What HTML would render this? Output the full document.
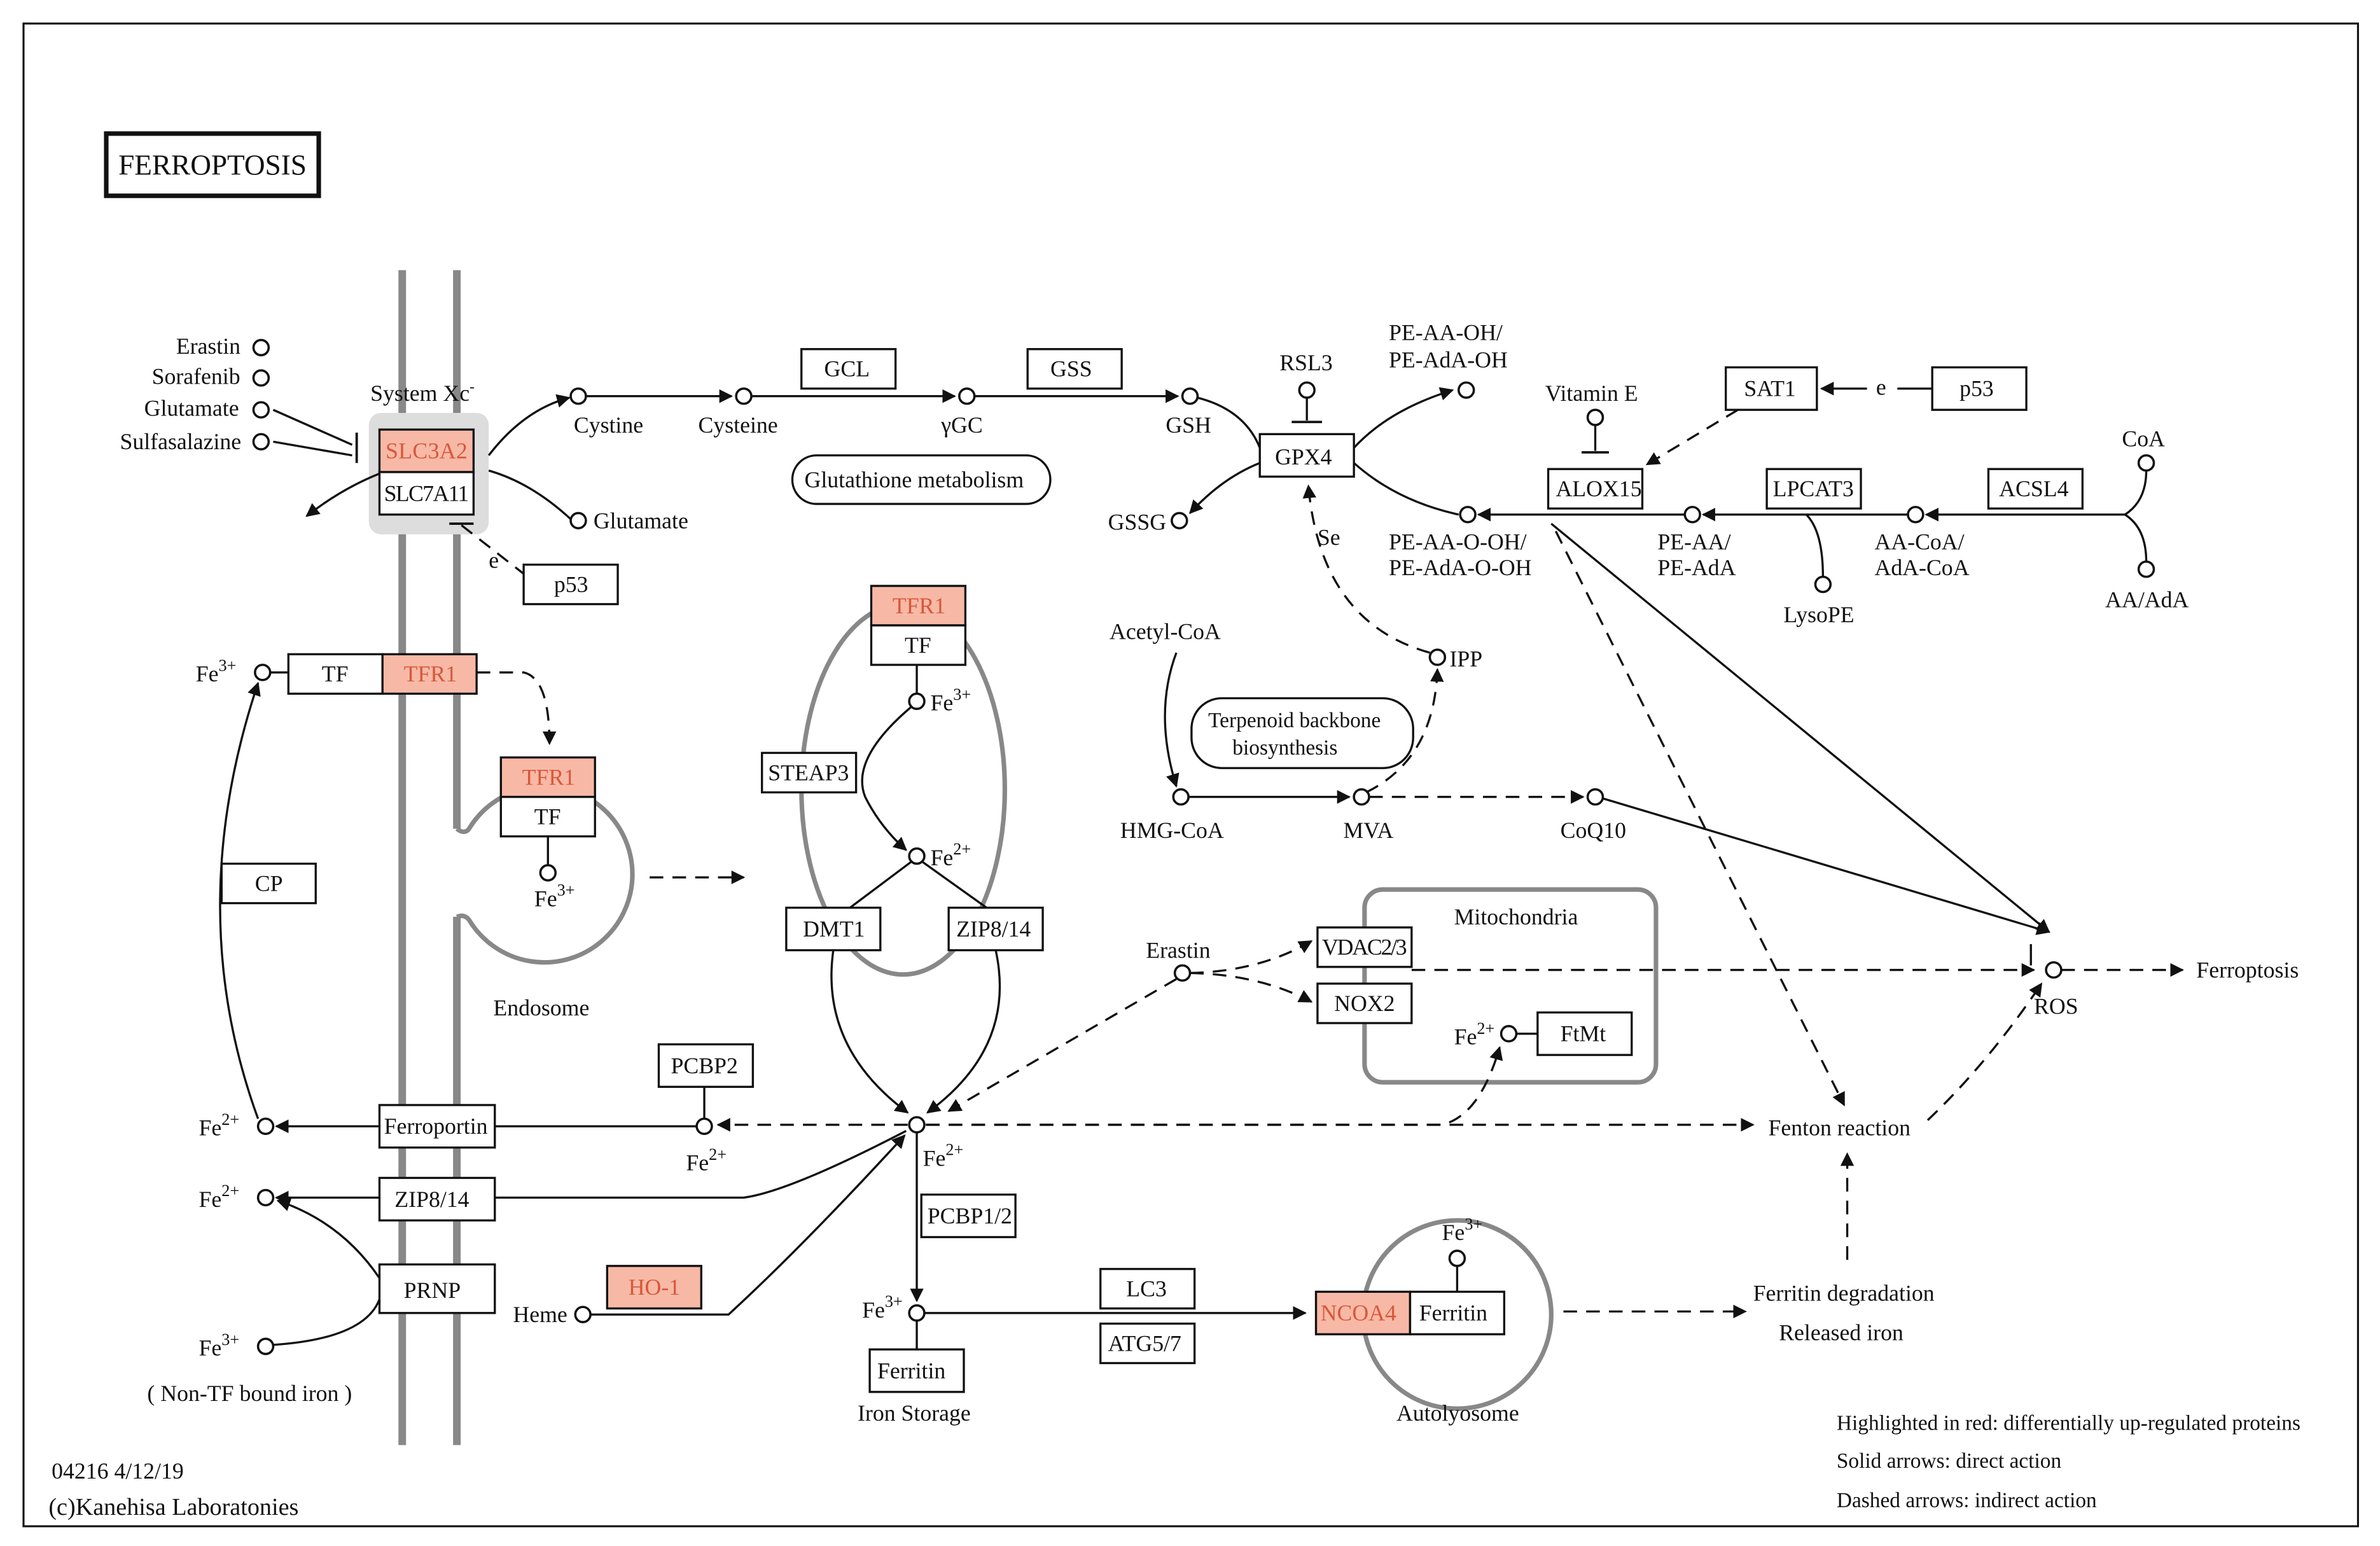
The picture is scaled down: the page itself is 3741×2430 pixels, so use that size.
<!DOCTYPE html>
<html><head><meta charset="utf-8"><style>
html,body{margin:0;padding:0;background:#fff;width:3741px;height:2430px;overflow:hidden}
svg{display:block}
text{font-family:"Liberation Serif",serif;font-size:15px;fill:#111}
.b{fill:#fff;stroke:#111;stroke-width:1.4}
.r{fill:#f7b9a6;stroke:#111;stroke-width:1.4}
.rt{fill:#d9573a}
.c{fill:#fff;stroke:#111;stroke-width:1.5}
.l{fill:none;stroke:#111;stroke-width:1.4}
.d{fill:none;stroke:#111;stroke-width:1.4;stroke-dasharray:9,6}
.g{fill:none;stroke:#888;stroke-width:3}
</style></head><body>
<svg width="3741" height="2430" viewBox="0 0 1568 1018.5" preserveAspectRatio="none" xmlns="http://www.w3.org/2000/svg">
<defs>
<marker id="a" viewBox="0 0 10 10" refX="9" refY="5" markerWidth="9" markerHeight="9" orient="auto" markerUnits="userSpaceOnUse"><path d="M0,0L10,5L0,10z" fill="#111"/></marker>
</defs>
<rect x="0" y="0" width="1568" height="1018.5" fill="#fff"/>
<rect x="15.5" y="15.5" width="1538" height="990" fill="none" stroke="#111" stroke-width="1.3"/>
<rect x="70" y="88" width="140" height="41" fill="#fff" stroke="#111" stroke-width="3"/>
<text x="78" y="115" style="font-size:19px" textLength="124">FERROPTOSIS</text>

<line x1="265" y1="178" x2="265" y2="952" stroke="#888" stroke-width="5"/>
<line x1="301" y1="178" x2="301" y2="546" stroke="#888" stroke-width="5"/>
<line x1="301" y1="604" x2="301" y2="952" stroke="#888" stroke-width="5"/>

<rect x="243" y="272" width="79" height="80" rx="8" fill="#ddd"/>
<text x="244" y="264">System Xc<tspan dy="-6" style="font-size:10px">-</tspan></text>
<rect x="250" y="283" width="62" height="28" class="r"/><text x="254" y="302" class="rt" textLength="54">SLC3A2</text>
<rect x="250" y="311" width="62" height="28" class="b"/><text x="253" y="330" textLength="56">SLC7A11</text>
<circle cx="172" cy="229" r="5" class="c"/><text x="116" y="233">Erastin</text>
<circle cx="172" cy="249" r="5" class="c"/><text x="100" y="253">Sorafenib</text>
<circle cx="172" cy="270" r="5" class="c"/><text x="95" y="274">Glutamate</text>
<circle cx="172" cy="291" r="5" class="c"/><text x="79" y="296">Sulfasalazine</text>
<path d="M180,270 L232,293 M180,291 L232,300" class="l"/><line x1="235" y1="285" x2="235" y2="305" stroke="#111" stroke-width="1.6"/>
<path d="M322,300 Q345,270 375,262" class="l" marker-end="url(#a)"/>
<path d="M250,312 Q225,322 202,340" class="l" marker-end="url(#a)"/>
<path d="M322,310 Q350,318 376,342" class="l"/>
<circle cx="381" cy="343" r="5" class="c"/><text x="391" y="348">Glutamate</text>
<line x1="296" y1="345" x2="312" y2="345" stroke="#111" stroke-width="1.6"/><path d="M304,346 L345,378" class="d"/>
<text x="322" y="374">e</text>
<rect x="345" y="372" width="62" height="26" class="b"/><text x="365" y="390">p53</text>

<circle cx="381" cy="261" r="5" class="c"/><text x="378" y="285">Cystine</text>
<line x1="386" y1="261" x2="482" y2="261" class="l" marker-end="url(#a)"/>
<circle cx="490" cy="261" r="5" class="c"/><text x="460" y="285">Cysteine</text>
<line x1="495" y1="261" x2="629" y2="261" class="l" marker-end="url(#a)"/>
<rect x="528" y="230" width="62" height="26" class="b"/><text x="543" y="248">GCL</text>
<circle cx="637" cy="261" r="5" class="c"/><text x="620" y="285">γGC</text>
<line x1="642" y1="261" x2="776" y2="261" class="l" marker-end="url(#a)"/>
<rect x="677" y="230" width="62" height="26" class="b"/><text x="692" y="248">GSS</text>
<circle cx="784" cy="261" r="5" class="c"/><text x="768" y="285">GSH</text>
<rect x="522" y="300" width="170" height="32" rx="16" class="b"/><text x="530" y="321">Glutathione metabolism</text>
<path d="M789,262 Q820,270 830,295" class="l"/>
<path d="M830,305 Q805,315 784,338" class="l" marker-end="url(#a)"/>
<circle cx="777" cy="343" r="5" class="c"/><text x="730" y="349">GSSG</text>
<rect x="830" y="286" width="62" height="28" class="b"/><text x="840" y="306">GPX4</text>
<text x="843" y="244">RSL3</text><circle cx="861" cy="257" r="5" class="c"/>
<line x1="861" y1="262" x2="861" y2="277" class="l"/><line x1="851" y1="278" x2="871" y2="278" stroke="#111" stroke-width="1.6"/>
<path d="M892,295 Q915,270 957,257" class="l" marker-end="url(#a)"/>
<circle cx="966" cy="257" r="5" class="c"/><text x="915" y="224">PE-AA-OH/</text><text x="915" y="242">PE-AdA-OH</text>
<path d="M892,305 Q920,330 961,339" class="l"/>
<circle cx="967" cy="339" r="5" class="c"/><text x="915" y="362">PE-AA-O-OH/</text><text x="915" y="379">PE-AdA-O-OH</text>
<line x1="1110" y1="339" x2="974" y2="339" class="l" marker-end="url(#a)"/>
<circle cx="1115" cy="339" r="5" class="c"/><text x="1092" y="362">PE-AA/</text><text x="1092" y="379">PE-AdA</text>
<line x1="1257" y1="339" x2="1122" y2="339" class="l" marker-end="url(#a)"/>
<circle cx="1262" cy="339" r="5" class="c"/><text x="1235" y="362">AA-CoA/</text><text x="1235" y="379">AdA-CoA</text>
<line x1="1400" y1="339" x2="1269" y2="339" class="l" marker-end="url(#a)"/>
<path d="M1414,310 Q1414,330 1400,339 Q1414,348 1414,370" class="l"/>
<circle cx="1414" cy="305" r="5" class="c"/><text x="1398" y="294">CoA</text>
<circle cx="1414" cy="375" r="5" class="c"/><text x="1387" y="400">AA/AdA</text>
<path d="M1190,339 Q1201,350 1201,380" class="l"/><circle cx="1201" cy="385" r="5" class="c"/><text x="1175" y="410">LysoPE</text>
<rect x="1020" y="309" width="62" height="26" class="b"/><text x="1025" y="327">ALOX15</text>
<rect x="1164" y="309" width="62" height="26" class="b"/><text x="1168" y="327">LPCAT3</text>
<rect x="1310" y="309" width="62" height="26" class="b"/><text x="1317" y="327">ACSL4</text>
<text x="1018" y="264">Vitamin E</text><circle cx="1051" cy="275" r="5" class="c"/>
<line x1="1051" y1="280" x2="1051" y2="297" class="l"/><line x1="1042" y1="298" x2="1060" y2="298" stroke="#111" stroke-width="1.6"/>
<rect x="1137" y="242" width="60" height="28" class="b"/><text x="1149" y="261">SAT1</text>
<rect x="1273" y="242" width="62" height="28" class="b"/><text x="1291" y="261">p53</text>
<line x1="1273" y1="256" x2="1250" y2="256" class="l"/><text x="1236" y="260">e</text>
<line x1="1230" y1="256" x2="1200" y2="256" class="l" marker-end="url(#a)"/>
<path d="M1145,270 L1085,306" class="d" marker-end="url(#a)"/>

<text x="731" y="421">Acetyl-CoA</text>
<path d="M775,430 Q760,470 775,518" class="l" marker-end="url(#a)"/>
<circle cx="778" cy="525" r="5" class="c"/><text x="738" y="552">HMG-CoA</text>
<line x1="783" y1="525" x2="889" y2="525" class="l" marker-end="url(#a)"/>
<circle cx="897" cy="525" r="5" class="c"/><text x="885" y="552">MVA</text>
<line x1="902" y1="525" x2="1043" y2="525" class="d" marker-end="url(#a)"/>
<circle cx="1051" cy="525" r="5" class="c"/><text x="1028" y="552">CoQ10</text>
<rect x="785" y="460" width="146" height="46" rx="20" class="b"/><text x="796" y="479" style="font-size:14px">Terpenoid backbone</text><text x="812" y="497" style="font-size:14px">biosynthesis</text>
<path d="M900,522 Q945,500 947,441" class="d" marker-end="url(#a)"/>
<circle cx="947" cy="433" r="5" class="c"/><text x="955" y="439">IPP</text>
<path d="M942,430 Q870,410 862,320" class="d" marker-end="url(#a)"/>
<text x="868" y="359">Se</text>
<line x1="1056" y1="526" x2="1350" y2="614" class="l" marker-end="url(#a)"/>
<line x1="1022" y1="345" x2="1350" y2="614" class="l" marker-end="url(#a)"/>
<path d="M1025,350 L1215,728" class="d" marker-end="url(#a)"/>

<circle cx="1353" cy="639" r="5" class="c"/><text x="1340" y="668">ROS</text>
<line x1="1358" y1="639" x2="1438" y2="639" class="d" marker-end="url(#a)"/>
<text x="1447" y="644">Ferroptosis</text>
<line x1="1338" y1="622" x2="1338" y2="636" stroke="#111" stroke-width="1.4"/>
<path d="M1270,738 Q1310,700 1345,648" class="d" marker-end="url(#a)"/>
<text x="1165" y="748">Fenton reaction</text>
<line x1="1217" y1="830" x2="1217" y2="760" class="d" marker-end="url(#a)"/>
<text x="1155" y="857">Ferritin degradation</text><text x="1172" y="883">Released iron</text>
<line x1="1030" y1="864" x2="1150" y2="864" class="d" marker-end="url(#a)"/>

<rect x="899" y="586" width="192" height="127" rx="12" class="g"/>
<text x="958" y="609">Mitochondria</text>
<rect x="868" y="611" width="62" height="26" class="b"/><text x="871" y="629" textLength="56">VDAC2/3</text>
<rect x="868" y="648" width="62" height="26" class="b"/><text x="879" y="666">NOX2</text>
<line x1="930" y1="639" x2="1340" y2="639" class="d" marker-end="url(#a)"/>
<circle cx="994" cy="681" r="5" class="c"/><text x="958" y="688">Fe<tspan dy="-7" style="font-size:11px">2+</tspan></text>
<rect x="1013" y="667" width="62" height="28" class="b"/><text x="1028" y="686">FtMt</text>
<line x1="999" y1="681" x2="1013" y2="681" class="l"/>
<circle cx="779" cy="641" r="5" class="c"/><text x="755" y="631">Erastin</text>
<path d="M784,641 Q830,640 864,620" class="d" marker-end="url(#a)"/>
<path d="M784,641 Q830,642 864,660" class="d" marker-end="url(#a)"/>
<path d="M775,645 L625,732" class="d" marker-end="url(#a)"/>

<circle cx="604" cy="741" r="5" class="c"/><text x="608" y="768">Fe<tspan dy="-7" style="font-size:11px">2+</tspan></text>
<line x1="610" y1="741" x2="1155" y2="741" class="d" marker-end="url(#a)"/>
<path d="M610,741 L950,741 Q975,735 988,690" class="d" marker-end="url(#a)"/>
<line x1="598" y1="741" x2="473" y2="741" class="d" marker-end="url(#a)"/>
<line x1="604" y1="746" x2="604" y2="857" class="l" marker-end="url(#a)"/>
<rect x="607" y="787" width="62" height="28" class="b"/><text x="611" y="806">PCBP1/2</text>
<circle cx="604" cy="865" r="5" class="c"/><text x="568" y="868">Fe<tspan dy="-7" style="font-size:11px">3+</tspan></text>
<line x1="604" y1="870" x2="604" y2="889" class="l"/>
<rect x="573" y="889" width="62" height="28" class="b"/><text x="578" y="908">Ferritin</text>
<text x="565" y="936">Iron Storage</text>
<line x1="609" y1="865" x2="860" y2="865" class="l" marker-end="url(#a)"/>
<rect x="725" y="836" width="62" height="26" class="b"/><text x="742" y="854">LC3</text>
<rect x="725" y="872" width="62" height="26" class="b"/><text x="730" y="890">ATG5/7</text>
<circle cx="960" cy="866" r="62" class="g"/>
<rect x="867" y="851" width="62" height="28" class="r"/><text x="870" y="870" class="rt">NCOA4</text>
<rect x="929" y="851" width="62" height="28" class="b"/><text x="935" y="870">Ferritin</text>
<circle cx="960" cy="829" r="5" class="c"/><line x1="960" y1="834" x2="960" y2="851" class="l"/>
<text x="950" y="817">Fe<tspan dy="-7" style="font-size:11px">3+</tspan></text>
<text x="920" y="936">Autolyosome</text>

<ellipse cx="595" cy="520" rx="67" ry="122" class="g"/>
<rect x="574" y="386" width="62" height="26" class="r"/><text x="588" y="404" class="rt">TFR1</text>
<rect x="574" y="412" width="62" height="26" class="b"/><text x="596" y="430">TF</text>
<line x1="604" y1="438" x2="604" y2="457" class="l"/>
<circle cx="604" cy="462" r="5" class="c"/><text x="613" y="468">Fe<tspan dy="-7" style="font-size:11px">3+</tspan></text>
<path d="M600,466 Q560,500 570,525 Q580,545 597,560" class="l" marker-end="url(#a)"/>
<rect x="502" y="496" width="62" height="26" class="b"/><text x="506" y="514">STEAP3</text>
<circle cx="604" cy="564" r="5" class="c"/><text x="613" y="570">Fe<tspan dy="-7" style="font-size:11px">2+</tspan></text>
<path d="M600,568 L560,598 M608,568 L650,598" class="l"/>
<rect x="518" y="598" width="62" height="28" class="b"/><text x="529" y="617">DMT1</text>
<rect x="625" y="598" width="62" height="28" class="b"/><text x="630" y="617">ZIP8/14</text>
<path d="M549,626 Q540,690 598,733" class="l" marker-end="url(#a)"/>
<path d="M656,626 Q670,690 611,733" class="l" marker-end="url(#a)"/>

<path d="M301,546 Q306,550 309,546 A58,58 0 1 1 309,606 Q306,602 301,604" class="g"/>
<rect x="330" y="499" width="62" height="26" class="r"/><text x="344" y="517" class="rt">TFR1</text>
<rect x="330" y="525" width="62" height="26" class="b"/><text x="352" y="543">TF</text>
<line x1="361" y1="551" x2="361" y2="570" class="l"/>
<circle cx="361" cy="575" r="5" class="c"/><text x="352" y="597">Fe<tspan dy="-7" style="font-size:11px">3+</tspan></text>
<text x="325" y="669">Endosome</text>
<line x1="428" y1="578" x2="490" y2="578" class="d" marker-end="url(#a)"/>

<rect x="190" y="431" width="62" height="26" class="b"/><text x="212" y="449">TF</text>
<rect x="252" y="431" width="62" height="26" class="r"/><text x="266" y="449" class="rt">TFR1</text>
<circle cx="173" cy="443" r="5" class="c"/><line x1="178" y1="443" x2="190" y2="443" class="l"/>
<text x="129" y="449">Fe<tspan dy="-7" style="font-size:11px">3+</tspan></text>
<path d="M314,443 L345,443 Q362,447 362,490" class="d" marker-end="url(#a)"/>
<rect x="146" y="569" width="62" height="26" class="b"/><text x="168" y="587">CP</text>
<path d="M170,737 Q120,600 170,450" class="l" marker-end="url(#a)"/>
<circle cx="175" cy="742" r="5" class="c"/><text x="131" y="748">Fe<tspan dy="-7" style="font-size:11px">2+</tspan></text>
<line x1="459" y1="742" x2="182" y2="742" class="l" marker-end="url(#a)"/>
<rect x="250" y="728" width="76" height="28" class="b"/><text x="253" y="747">Ferroportin</text>
<rect x="434" y="688" width="62" height="28" class="b"/><text x="442" y="707">PCBP2</text>
<line x1="464" y1="716" x2="464" y2="737" class="l"/>
<circle cx="464" cy="742" r="5" class="c"/><text x="452" y="771">Fe<tspan dy="-7" style="font-size:11px">2+</tspan></text>
<circle cx="175" cy="789" r="5" class="c"/><text x="131" y="795">Fe<tspan dy="-7" style="font-size:11px">2+</tspan></text>
<path d="M597,745 Q520,785 490,789 L182,789" class="l" marker-end="url(#a)"/>
<rect x="250" y="776" width="76" height="28" class="b"/><text x="260" y="795">ZIP8/14</text>
<path d="M250,842 Q225,805 183,791" class="l" marker-end="url(#a)"/>
<path d="M180,886 Q240,882 250,856" class="l"/>
<rect x="250" y="833" width="76" height="32" class="b"/><text x="266" y="855">PRNP</text>
<circle cx="175" cy="887" r="5" class="c"/><text x="131" y="893">Fe<tspan dy="-7" style="font-size:11px">3+</tspan></text>
<text x="97" y="923">( Non-TF bound iron )</text>
<circle cx="384" cy="866" r="5" class="c"/><text x="338" y="871">Heme</text>
<path d="M389,866 L480,866 Q530,820 596,748" class="l" marker-end="url(#a)"/>
<rect x="400" y="834" width="62" height="28" class="r"/><text x="414" y="853" class="rt">HO-1</text>

<text x="34" y="974">04216  4/12/19</text>
<text x="32" y="998" style="font-size:16px">(c)Kanehisa Laboratonies</text>
<text x="1210" y="942" style="font-size:14px">Highlighted in red: differentially up-regulated proteins</text>
<text x="1210" y="967" style="font-size:14px">Solid arrows: direct action</text>
<text x="1210" y="993" style="font-size:14px">Dashed arrows: indirect action</text>
</svg>
</body></html>
